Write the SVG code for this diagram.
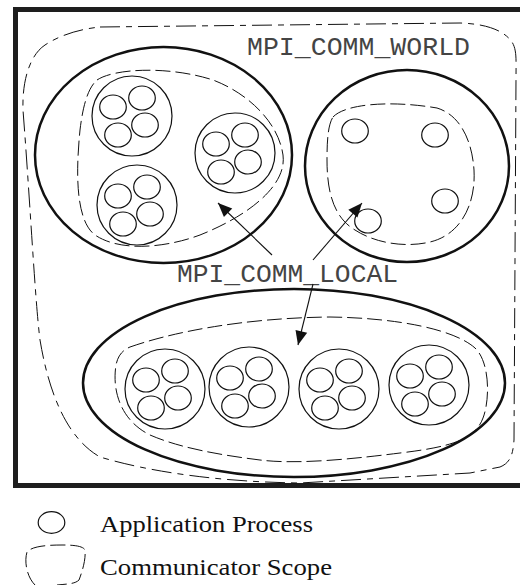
<svg xmlns="http://www.w3.org/2000/svg" width="520" height="585" viewBox="0 0 520 585">
<style>
.bg{fill:#fff}
.frame{fill:none;stroke:#1e1e1e;stroke-width:5}
.thick{fill:none;stroke:#111;stroke-width:2.5}
.thin{fill:none;stroke:#111;stroke-width:1.2}
.scope{fill:none;stroke:#111;stroke-width:1;stroke-dasharray:15 5}
.world{fill:none;stroke:#111;stroke-width:1;stroke-dasharray:20 6 6 6}
.mono{font-family:"Liberation Mono","Courier New",monospace;font-size:26px;fill:#444}
.serif{font-family:"Liberation Serif","Times New Roman",serif;font-size:23px;fill:#111}
.arrow{fill:none;stroke:#111;stroke-width:1.1}
</style>
<defs>
<marker id="ah" markerUnits="userSpaceOnUse" markerWidth="16" markerHeight="14" refX="0" refY="0" viewBox="-15 -7 16 14" orient="auto">
<path d="M0,0 L-14,-6 L-14,6 Z" fill="#111"/>
</marker>
<g id="proc4">
<ellipse cx="-19" cy="-9" rx="13.3" ry="12" class="thin"/>
<ellipse cx="10" cy="-18" rx="13.3" ry="12" class="thin"/>
<ellipse cx="13" cy="9" rx="13.3" ry="12" class="thin"/>
<ellipse cx="-14" cy="19" rx="13.3" ry="12" class="thin"/>
<circle cx="0" cy="0" r="40" class="thin"/>
</g>
</defs>
<rect width="520" height="585" class="bg"/>
<rect id="frame" x="15.5" y="9.5" width="520" height="476" class="frame"/>

<g id="world">
<path class="world" d="M 100,27 L 460,23 C 490,24 505,32 512,42 C 517,50 516,60 516,80 L 514,440 C 513,455 510,463 500,467 L 470,473 L 300,483 C 220,482 150,472 100,457 C 70,440 50,400 40,340 C 35,300 30,200 23,110 C 22,80 30,55 45,45 C 60,35 80,29 100,27 Z"/>
<text class="mono" x="247" y="55" textLength="223" lengthAdjust="spacingAndGlyphs">MPI_COMM_WORLD</text>
</g>

<g id="local-left">
<ellipse cx="163.5" cy="155" rx="128.5" ry="108" class="thick"/>
<path class="scope" d="M 97,80 C 115,68 170,66 213,80 C 245,92 278,120 283,155 C 287,185 250,215 200,235 C 165,248 120,252 95,235 C 75,220 76,170 80,130 C 83,105 88,88 97,80 Z"/>
<use href="#proc4" x="132" y="116"/>
<use href="#proc4" x="235" y="153"/>
<use href="#proc4" x="137" y="205"/>
</g>

<g id="local-right">
<ellipse cx="407" cy="166" rx="102" ry="96" class="thick"/>
<path class="scope" d="M 333,117 C 345,104 390,100 437,108 C 460,115 472,140 474,170 C 476,205 460,235 430,242 C 405,248 375,243 355,230 C 335,218 327,195 327,160 C 327,140 328,125 333,117 Z"/>
<ellipse cx="355" cy="131" rx="13.3" ry="12" class="thin"/>
<ellipse cx="435" cy="135" rx="13.3" ry="12" class="thin"/>
<ellipse cx="445" cy="201" rx="13.3" ry="12" class="thin"/>
<ellipse cx="368" cy="221" rx="13.3" ry="12" class="thin"/>
</g>

<g id="local-bottom">
<ellipse cx="294" cy="383" rx="211" ry="94" class="thick"/>
<path class="scope" d="M 130,347 C 170,333 240,318 330,317 C 400,318 455,330 475,348 C 490,362 490,400 483,418 C 475,440 450,447 400,453 C 360,458 300,465 260,460 C 220,455 180,448 150,435 C 120,420 112,390 116,365 C 118,355 123,350 130,347 Z"/>
<use href="#proc4" x="165" y="389"/>
<use href="#proc4" x="249" y="387"/>
<use href="#proc4" x="339" y="389"/>
<use href="#proc4" x="429" y="385"/>
</g>

<g id="local-label">
<text class="mono" x="177" y="282" textLength="221" lengthAdjust="spacingAndGlyphs">MPI_COMM_LOCAL</text>
</g>

<g id="connectors">
<line class="arrow" x1="272" y1="255" x2="218" y2="203" marker-end="url(#ah)"/>
<line class="arrow" x1="313" y1="260" x2="362" y2="203" marker-end="url(#ah)"/>
<line class="arrow" x1="313" y1="284" x2="298" y2="345" marker-end="url(#ah)"/>
</g>

<g id="legend">
<ellipse cx="51.5" cy="522.5" rx="13.3" ry="10.8" class="thin"/>
<path class="scope" d="M 35,585 C 27,577 24,562 27,552 C 32,546 48,545 62,545 C 74,545 83,546 85,550 C 86,560 82,572 79,580 C 75,584 67,584 57,585"/>
<text class="serif" x="100" y="532" textLength="213" lengthAdjust="spacingAndGlyphs">Application Process</text>
<text class="serif" x="100" y="575" textLength="232" lengthAdjust="spacingAndGlyphs">Communicator Scope</text>
</g>
</svg>
